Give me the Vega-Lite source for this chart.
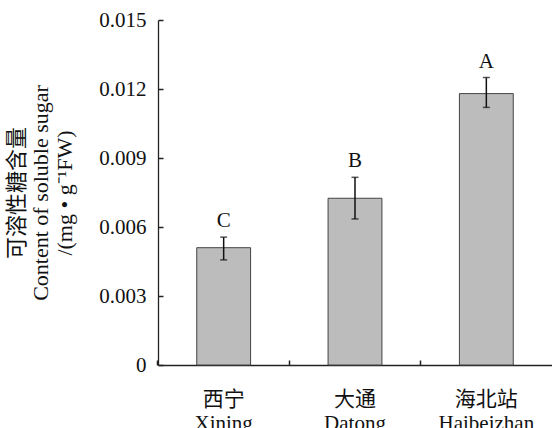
{
  "$schema": "https://vega.github.io/schema/vega-lite/v6.json",
  "autosize": "none",
  "width": 394,
  "height": 345,
  "padding": {"left": 158, "top": 20, "right": 0, "bottom": 63},
  "background": "white",
  "config": {
    "view": {"stroke": null},
    "font": "Liberation Serif, Noto Sans CJK SC",
    "axis": {"grid": false, "domainColor": "#222", "tickColor": "#222", "labelColor": "#111", "titleColor": "#111", "labelFont": "Liberation Serif, Noto Sans CJK SC", "titleFont": "Liberation Serif, Noto Sans CJK SC", "titleFontWeight": "normal", "domainWidth": 1.3, "tickWidth": 1.5}
  },
  "data": {
    "values": [
      {"site": "西宁|Xining", "mean": 0.0051, "lo": 0.00457, "hi": 0.00556, "sig": "C"},
      {"site": "大通|Datong", "mean": 0.00725, "lo": 0.00635, "hi": 0.00816, "sig": "B"},
      {"site": "海北站|Haibeizhan", "mean": 0.0118, "lo": 0.0112, "hi": 0.0125, "sig": "A"}
    ]
  },
  "encoding": {
    "x": {
      "field": "site", "type": "nominal", "sort": null,
      "scale": {"paddingInner": 0.59, "paddingOuter": 0.295},
      "axis": {"title": null, "labelAngle": 0, "bandPosition": -0.72, "ticks": true, "tickSize": -5, "labelPadding": 28, "labelFontSize": 21, "labelLineHeight": 24, "labelExpr": "split(datum.label, '|')"}
    }
  },
  "layer": [
    {
      "mark": {"type": "bar", "fill": "#bcbcbc", "stroke": "#444", "strokeWidth": 1},
      "encoding": {
        "y": {
          "field": "mean", "type": "quantitative",
          "scale": {"domain": [0, 0.015], "nice": false},
          "axis": {
            "values": [0, 0.003, 0.006, 0.009, 0.012, 0.015],
            "labelExpr": "datum.value == 0 ? '0' : format(datum.value, '.3f')",
            "ticks": true, "tickSize": -5, "labelPadding": 17, "labelFontSize": 21,
            "title": ["可溶性糖含量", "Content of soluble sugar", "/(mg • g⁻¹FW)"],
            "titleFontSize": 22, "titleLineHeight": 24, "titlePadding": 22
          }
        }
      }
    },
    {
      "mark": {"type": "rule", "color": "#111", "strokeWidth": 1.5},
      "encoding": {"y": {"field": "lo", "type": "quantitative"}, "y2": {"field": "hi"}}
    },
    {
      "mark": {"type": "tick", "color": "#111", "orient": "horizontal", "size": 7, "thickness": 1.5},
      "encoding": {"y": {"field": "lo", "type": "quantitative"}}
    },
    {
      "mark": {"type": "tick", "color": "#111", "orient": "horizontal", "size": 7, "thickness": 1.5},
      "encoding": {"y": {"field": "hi", "type": "quantitative"}}
    },
    {
      "mark": {"type": "text", "fontSize": 21, "baseline": "middle", "dy": -16, "color": "#111"},
      "encoding": {"y": {"field": "hi", "type": "quantitative"}, "text": {"field": "sig"}}
    }
  ]
}
